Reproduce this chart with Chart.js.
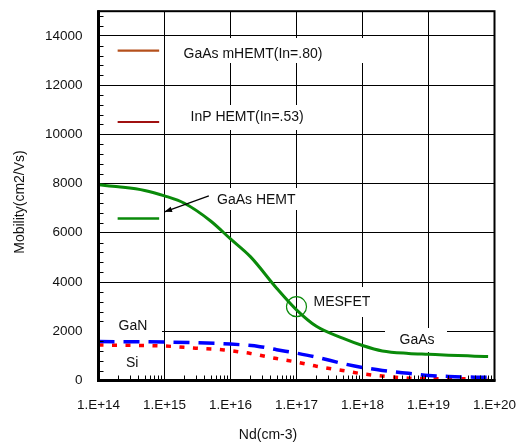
<!DOCTYPE html>
<html>
<head>
<meta charset="utf-8">
<script src="https://cdn.jsdelivr.net/npm/chart.js@4/dist/chart.umd.min.js"></script>
<style>
  html, body { margin: 0; padding: 0; background: #fff; }
  #wrap { width: 521px; height: 444px; position: relative; }
</style>
</head>
<body>
<div id="wrap"><canvas id="c"></canvas></div>
<script>
// Doping concentration axis (cm^-3) and its decade labels
const decades = [1e14, 1e15, 1e16, 1e17, 1e18, 1e19, 1e20];
const decadeLabels = ['1.E+14', '1.E+15', '1.E+16', '1.E+17', '1.E+18', '1.E+19', '1.E+20'];
const mobilityTicks = [0, 2000, 4000, 6000, 8000, 10000, 12000, 14000];

// GaAs bulk electron mobility
const gaasNd = [1e14, 2e14, 5e14, 1e15, 2e15, 5e15, 1e16, 2e16, 5e16, 1e17, 2e17, 5e17, 1e18, 2e18, 5e18, 1e19, 2e19, 5e19, 8e19];
const gaasMu = [7950, 7870, 7720, 7500, 7200, 6480, 5750, 5030, 3750, 2870, 2200, 1720, 1420, 1200, 1100, 1065, 1030, 990, 970];

// GaN electron mobility
const ganNd = [1e14, 1e15, 1e16, 2.8e16, 5e16, 1e17, 2e17, 5e17, 1e18, 2e18, 5e18, 1e19, 2e19, 5e19, 8e19];
const ganMu = [1580, 1560, 1480, 1375, 1250, 1110, 950, 690, 530, 410, 290, 205, 165, 135, 130];

// Si electron mobility
const siNd = [1e14, 1e15, 3e15, 8e15, 1.3e16, 2e16, 5e16, 1e17, 2e17, 5e17, 1e18, 2e18, 5e18, 1e19, 5e19, 8e19];
const siMu = [1440, 1400, 1310, 1240, 1170, 1100, 890, 750, 580, 405, 270, 180, 95, 75, 65, 50];

// Channel mobility levels of the HEMT structures (short marker lines)
const stubNd = [1.95e14, 8.3e14];
const mhemtMu = 13400;   // GaAs mHEMT (In=.80)
const inpMu = 10500;     // InP HEMT (In=.53)
const hemtMu = 6580;     // GaAs HEMT

// Typical MESFET operating point on the GaAs curve
const mesfetNd = 1e17;
const mesfetMu = 3000;

const pts = (xs, ys) => xs.map((x, i) => ({ x, y: ys[i] }));
const flat = (xs, y) => xs.map(x => ({ x, y }));

const FONT = '"Liberation Sans", Arial, sans-serif';

// Text annotations: text, left px, center y px, white backing box
const notes = [
  { t: 'GaAs mHEMT(In=.80)', x: 183.5, y: 54, box: [176, 38, 370, 63] },
  { t: 'InP HEMT(In=.53)', x: 190.5, y: 117, box: [176, 105, 340, 130] },
  { t: 'GaAs HEMT', x: 217, y: 200, box: [211, 188, 302, 210] },
  { t: 'MESFET', x: 313.5, y: 302.5, box: [306, 287, 376, 317] },
  { t: 'GaAs', x: 399.5, y: 340.5, box: [385, 328, 447, 352] },
  { t: 'GaN', x: 118.5, y: 326, box: [100, 316, 162, 337] },
  { t: 'Si', x: 126, y: 363, box: null }
];

const noOverhang = s => { s.paddingTop = 0; s.paddingBottom = 0; s.paddingLeft = 0; s.paddingRight = 0; };

const decor = {
  id: 'decor',
  beforeDatasetsDraw(chart) {
    const ctx = chart.ctx;
    ctx.save();
    ctx.fillStyle = '#fff';
    notes.forEach(n => {
      if (n.box) ctx.fillRect(n.box[0], n.box[1], n.box[2] - n.box[0], n.box[3] - n.box[1]);
    });
    ctx.fillStyle = '#111';
    ctx.font = '14px ' + FONT;
    ctx.textBaseline = 'middle';
    ctx.textAlign = 'left';
    notes.forEach(n => ctx.fillText(n.t, n.x, n.y));
    ctx.restore();
  },
  afterDatasetsDraw(chart) {
    const ctx = chart.ctx;
    const a = chart.chartArea;
    const xs = chart.scales.x, ys = chart.scales.y;
    ctx.save();
    // minor ticks, pointing into the plot
    ctx.strokeStyle = '#000';
    ctx.lineWidth = 1;
    ctx.beginPath();
    for (let v = 400; v < 15000; v += 400) {
      if (v % 2000 === 0) continue;
      const y = Math.round(ys.getPixelForValue(v)) + 0.5;
      ctx.moveTo(a.left, y); ctx.lineTo(a.left + 5, y);
    }
    for (let e = 14; e < 20; e++) {
      for (let k = 2; k <= 9; k++) {
        const x = Math.round(xs.getPixelForValue(k * Math.pow(10, e))) + 0.5;
        ctx.moveTo(x, a.bottom); ctx.lineTo(x, a.bottom - 5);
      }
    }
    ctx.stroke();
    // plot frame
    ctx.lineWidth = 2;
    ctx.strokeRect(a.left, a.top, a.right - a.left, a.bottom - a.top);
    ctx.lineWidth = 3;
    ctx.beginPath();
    ctx.moveTo(a.left, a.top - 1); ctx.lineTo(a.left, a.bottom);
    ctx.lineTo(a.right + 1, a.bottom);
    ctx.stroke();
    // arrow pointing at the GaAs HEMT marker line
    const x0 = xs.getPixelForValue(4.7e15), y0 = ys.getPixelForValue(7500);
    const x1 = xs.getPixelForValue(1.0e15), y1 = ys.getPixelForValue(6850);
    ctx.lineWidth = 1.2;
    ctx.beginPath(); ctx.moveTo(x0, y0); ctx.lineTo(x1, y1); ctx.stroke();
    const ang = Math.atan2(y1 - y0, x1 - x0);
    ctx.fillStyle = '#000';
    ctx.beginPath();
    ctx.moveTo(x1, y1);
    ctx.lineTo(x1 - 8 * Math.cos(ang - 0.35), y1 - 8 * Math.sin(ang - 0.35));
    ctx.lineTo(x1 - 8 * Math.cos(ang + 0.35), y1 - 8 * Math.sin(ang + 0.35));
    ctx.closePath(); ctx.fill();
    // axis titles
    ctx.fillStyle = '#111';
    ctx.font = '14px ' + FONT;
    ctx.textAlign = 'center';
    ctx.textBaseline = 'middle';
    ctx.fillText('Nd(cm-3)', 268, 435.5);
    ctx.translate(20, 202);
    ctx.rotate(-Math.PI / 2);
    ctx.fillText('Mobility(cm2/Vs)', 0, 0);
    ctx.restore();
  }
};

new Chart(document.getElementById('c'), {
  type: 'line',
  data: {
    datasets: [
      { label: 'GaAs', data: pts(gaasNd, gaasMu), borderColor: '#0A8A0A', borderWidth: 3, cubicInterpolationMode: 'monotone' },
      { label: 'GaN', data: pts(ganNd, ganMu), borderColor: '#0000FF', borderWidth: 3.5, borderDash: [16, 9], cubicInterpolationMode: 'monotone' },
      { label: 'Si', data: pts(siNd, siMu), borderColor: '#FF0000', borderWidth: 3.5, borderDash: [5, 8.5], cubicInterpolationMode: 'monotone' },
      { label: 'GaAs mHEMT(In=.80)', data: flat(stubNd, mhemtMu), borderColor: '#B5501C', borderWidth: 2.2 },
      { label: 'InP HEMT(In=.53)', data: flat(stubNd, inpMu), borderColor: '#A01010', borderWidth: 2.2 },
      { label: 'GaAs HEMT', data: flat(stubNd, hemtMu), borderColor: '#0A8A0A', borderWidth: 2.6 },
      { label: 'MESFET', data: [{ x: mesfetNd, y: mesfetMu }], showLine: false, pointRadius: 10, pointBorderWidth: 1.2,
        pointBorderColor: '#0A8A0A', pointBackgroundColor: 'rgba(0,0,0,0)', pointStyle: 'circle' }
    ]
  },
  options: {
    responsive: true,
    maintainAspectRatio: false,
    animation: false,
    events: [],
    layout: { padding: { top: 11, right: 26.5, left: 0, bottom: 0 } },
    elements: { point: { radius: 0 }, line: { borderCapStyle: 'butt', fill: false } },
    plugins: { legend: { display: false }, tooltip: { enabled: false } },
    scales: {
      x: {
        type: 'logarithmic',
        min: 1e14, max: 1e20,
        afterBuildTicks: s => { s.ticks = decades.map(v => ({ value: v })); },
        afterFit: s => { s.height = 63.5; noOverhang(s); },
        grid: { color: '#000', lineWidth: 1, drawTicks: false },
        border: { display: false },
        ticks: {
          padding: 17, color: '#111', maxRotation: 0, autoSkip: false,
          font: { family: FONT, size: 13.5 },
          callback: (v) => { const i = decades.indexOf(v); return i >= 0 ? decadeLabels[i] : ''; }
        }
      },
      y: {
        type: 'linear',
        min: 0, max: 15000,
        afterBuildTicks: s => { s.ticks = mobilityTicks.map(v => ({ value: v })); },
        afterFit: s => { s.width = 98.5; noOverhang(s); },
        grid: { color: '#000', lineWidth: 1, drawTicks: false },
        border: { display: false },
        ticks: {
          padding: 16, color: '#111',
          font: { family: FONT, size: 13.5 },
          callback: v => String(v)
        }
      }
    }
  },
  plugins: [decor]
});
</script>
</body>
</html>
